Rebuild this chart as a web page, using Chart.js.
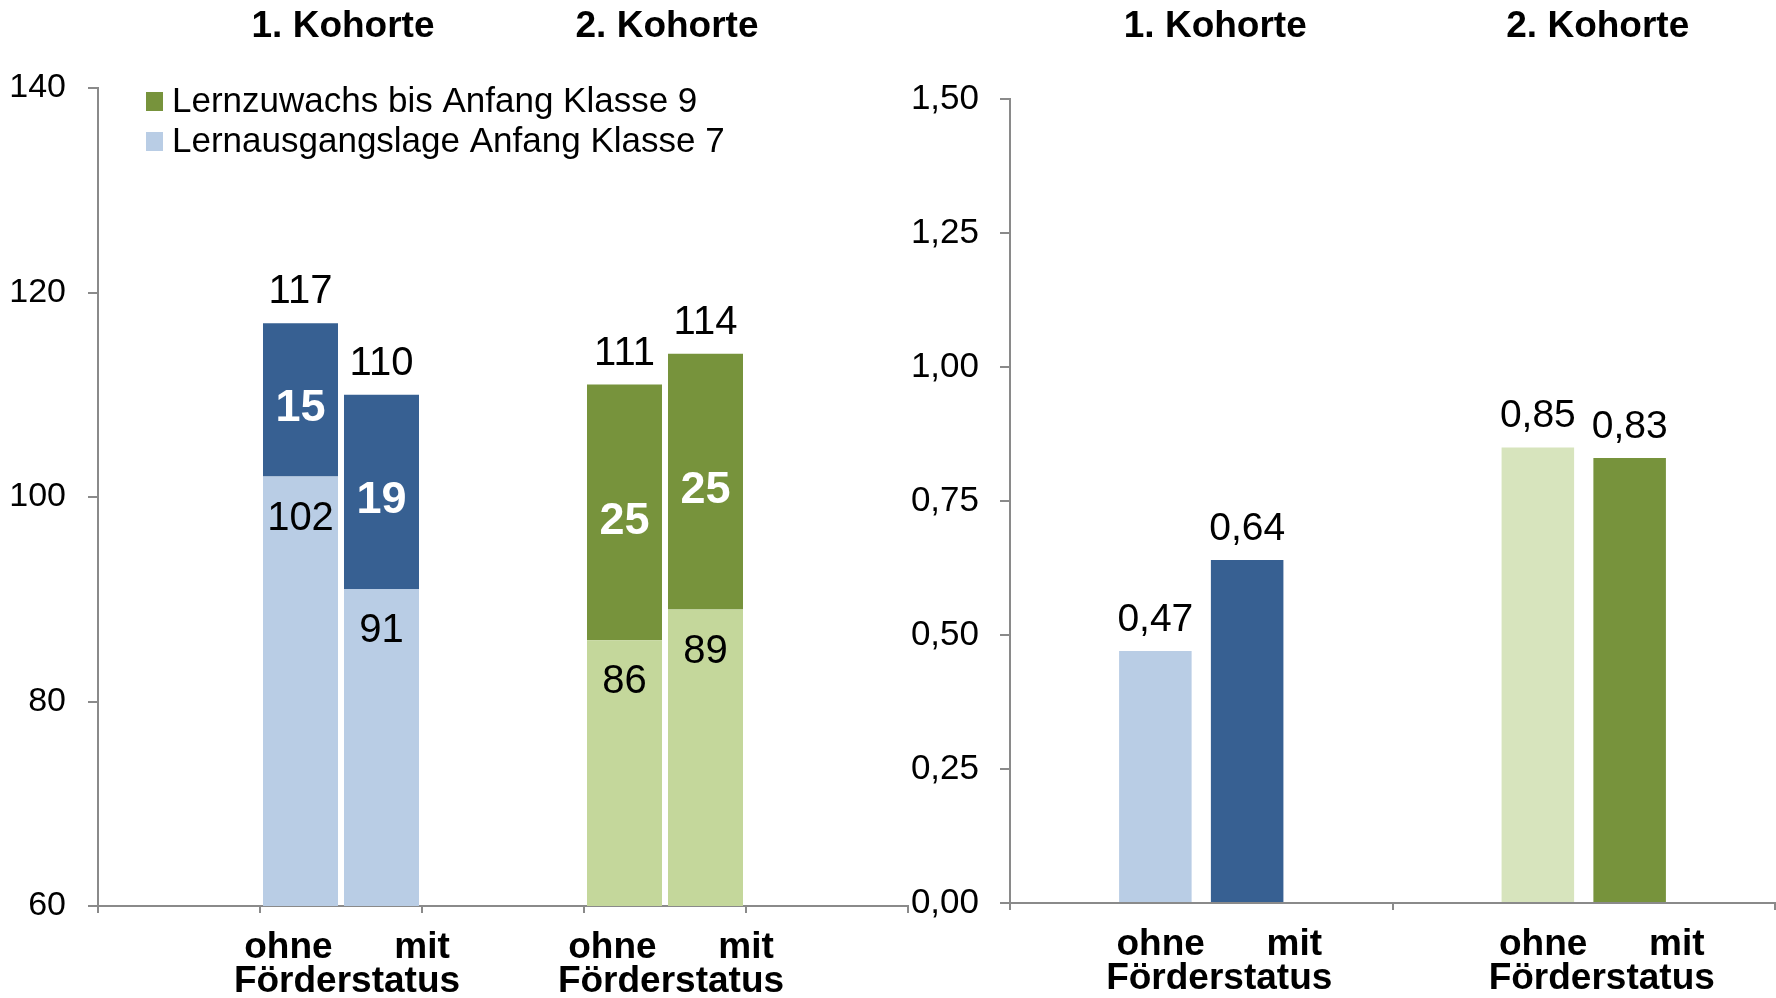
<!DOCTYPE html>
<html>
<head>
<meta charset="utf-8">
<script src="https://cdn.jsdelivr.net/npm/chart.js@4/dist/chart.umd.min.js"></script>
<style>
  html, body { margin: 0; padding: 0; background: #fff; }
  #wrap { position: relative; width: 1776px; height: 998px; overflow: hidden; }
  #left { position: absolute; left: 0; top: 0; }
  #right { position: absolute; left: 905px; top: 0; }
</style>
</head>
<body>
<div id="wrap">
  <canvas id="left" width="909" height="998"></canvas>
  <canvas id="right" width="871" height="998"></canvas>
</div>
<script>
// Kohorten, Beschriftungen
const cohorts = ['1. Kohorte', '2. Kohorte'];
const subLabels = ['ohne', 'mit'];
const subTitle = 'Förderstatus';
const legendNames = ['Lernzuwachs bis Anfang Klasse 9', 'Lernausgangslage Anfang Klasse 7'];

// linkes Diagramm: Lernausgangslage Kl. 7 + Lernzuwachs bis Kl. 9
const startOhne = [102, 86];
const startMit = [91, 89];
const gainOhne = [15, 25];
const gainMit = [19, 25];
const leftTicks = [60, 80, 100, 120, 140];

// rechtes Diagramm: Effektstärken
const effectOhne = [0.47, 0.85];
const effectMit = [0.64, 0.83];
const rightTicks = [0, 0.25, 0.5, 0.75, 1, 1.25, 1.5];

// Farben
const cLightBlue = '#B9CDE5', cDarkBlue = '#376092';
const cLightGreen = '#C4D79B', cPaleGreen = '#D7E4BD', cDarkGreen = '#77933C';
const axisGrey = '#8a8a8a';

Chart.defaults.font.family = '"Liberation Sans", Arial, sans-serif';
Chart.defaults.color = '#000';

const FONT = '"Liberation Sans", Arial, sans-serif';
const catLabel = [subLabels.join('      '), subTitle];
const fmt = v => v.toFixed(2).replace('.', ',');

// left chart uses 5 slots: empty, K1, empty, K2, empty
const spread = arr => [null, arr[0], null, arr[1], null];
const leftSlots = ['', catLabel, '', catLabel, ''];
const leftCohortIdx = [1, 3];

function xAxis(height, pad, shift, lastTick) {
  return {
    stacked: true,
    grid: {
      drawOnChartArea: false, drawTicks: true, tickLength: 7, lineWidth: 2,
      color: c => (c.index === lastTick ? 'rgba(0,0,0,0)' : axisGrey)
    },
    border: { color: axisGrey, width: 2 },
    ticks: {
      autoSkip: false, maxRotation: 0, minRotation: 0, padding: pad, labelOffset: shift,
      font: { size: 37, weight: 'bold', lineHeight: '34px' }
    },
    afterFit: s => { s.height = height; }
  };
}

function yAxis(ticks, width, pad, size, fmtFn) {
  return {
    min: ticks[0], max: ticks[ticks.length - 1],
    grid: { drawOnChartArea: false, drawTicks: true, tickLength: 10, color: axisGrey, lineWidth: 2 },
    border: { color: axisGrey, width: 2 },
    afterBuildTicks: s => { s.ticks = ticks.map(v => ({ value: v })); },
    ticks: { padding: pad, font: { size: size }, callback: fmtFn },
    afterFit: s => { s.width = width; }
  };
}

function drawTitles(chart, idxs, shift) {
  const ctx = chart.ctx, x = chart.scales.x;
  ctx.save();
  ctx.font = 'bold 37px ' + FONT;
  ctx.fillStyle = '#000';
  ctx.textAlign = 'center';
  ctx.textBaseline = 'alphabetic';
  cohorts.forEach((c, i) => ctx.fillText(c, x.getPixelForValue(idxs[i]) + shift, 37));
  ctx.restore();
}

// value labels + legend for the stacked chart
const leftText = {
  id: 'leftText',
  afterDatasetsDraw(chart) {
    const ctx = chart.ctx;
    ctx.save();
    ctx.textAlign = 'center';
    chart.data.datasets.forEach((ds, di) => {
      const meta = chart.getDatasetMeta(di);
      meta.data.forEach((bar, i) => {
        const v = ds.data[i];
        if (v == null) return;
        if (ds.kind === 'gain') {
          ctx.font = 'bold 45px ' + FONT;
          ctx.fillStyle = '#fff';
          ctx.textBaseline = 'middle';
          ctx.fillText(String(v), bar.x, (bar.y + bar.base) / 2 + 9);
          const total = chart.data.datasets[di - 1].data[i] + v;
          ctx.font = '40px ' + FONT;
          ctx.fillStyle = '#000';
          ctx.textBaseline = 'alphabetic';
          ctx.fillText(String(total), bar.x, bar.y - 20);
        } else {
          ctx.font = '40px ' + FONT;
          ctx.fillStyle = '#000';
          ctx.textBaseline = 'middle';
          ctx.fillText(String(v), bar.x, bar.y + 42);
        }
      });
    });
    ctx.restore();
  },
  afterDraw(chart) {
    const ctx = chart.ctx, a = chart.chartArea;
    const items = [[legendNames[0], cDarkGreen], [legendNames[1], cLightBlue]];
    ctx.save();
    ctx.font = '35px ' + FONT;
    ctx.textAlign = 'left';
    ctx.textBaseline = 'alphabetic';
    items.forEach(([txt, col], i) => {
      const y = a.top + 4 + i * 40;
      ctx.fillStyle = col;
      ctx.fillRect(a.left + 48, y, 17, 19);
      ctx.fillStyle = '#000';
      ctx.fillText(txt, a.left + 74, y + 20);
    });
    ctx.restore();
    drawTitles(chart, leftCohortIdx, 2);
  }
};

const rightText = {
  id: 'rightText',
  afterDatasetsDraw(chart) {
    const ctx = chart.ctx;
    ctx.save();
    ctx.textAlign = 'center';
    ctx.textBaseline = 'alphabetic';
    ctx.font = '39px ' + FONT;
    ctx.fillStyle = '#000';
    chart.data.datasets.forEach((ds, di) => {
      chart.getDatasetMeta(di).data.forEach((bar, i) => {
        ctx.fillText(fmt(ds.data[i]), bar.x, bar.y - 20);
      });
    });
    ctx.restore();
  },
  afterDraw(chart) { drawTitles(chart, [0, 1], 14); }
};

new Chart(document.getElementById('left'), {
  type: 'bar',
  data: {
    labels: leftSlots,
    datasets: [
      { label: legendNames[1], data: spread(startOhne), stack: 'ohne', backgroundColor: spread([cLightBlue, cLightGreen]) },
      { label: legendNames[0], data: spread(gainOhne), stack: 'ohne', kind: 'gain', backgroundColor: spread([cDarkBlue, cDarkGreen]) },
      { label: legendNames[1], data: spread(startMit), stack: 'mit', backgroundColor: spread([cLightBlue, cLightGreen]) },
      { label: legendNames[0], data: spread(gainMit), stack: 'mit', kind: 'gain', backgroundColor: spread([cDarkBlue, cDarkGreen]) }
    ]
  },
  options: {
    responsive: false,
    animation: false,
    categoryPercentage: 1.0,
    barPercentage: 0.926,
    layout: { padding: { top: 88, right: 1, left: 0, bottom: 0 } },
    plugins: { legend: { display: false }, tooltip: { enabled: false } },
    scales: {
      x: xAxis(92, 18, 6, 5),
      y: Object.assign(yAxis(leftTicks, 98, 22, 34, v => String(v)), { stacked: true })
    }
  },
  plugins: [leftText]
});

new Chart(document.getElementById('right'), {
  type: 'bar',
  data: {
    labels: [catLabel, catLabel],
    datasets: [
      { label: subLabels[0], data: effectOhne, backgroundColor: [cLightBlue, cPaleGreen] },
      { label: subLabels[1], data: effectMit, backgroundColor: [cDarkBlue, cDarkGreen] }
    ]
  },
  options: {
    responsive: false,
    animation: false,
    categoryPercentage: 0.48,
    barPercentage: 0.79,
    layout: { padding: { top: 99, right: 1, left: 0, bottom: 0 } },
    plugins: { legend: { display: false }, tooltip: { enabled: false } },
    scales: {
      x: Object.assign(xAxis(95, 18, 18, -1), { stacked: false }),
      y: yAxis(rightTicks, 105, 21, 35, v => fmt(v))
    }
  },
  plugins: [rightText]
});
</script>
</body>
</html>
